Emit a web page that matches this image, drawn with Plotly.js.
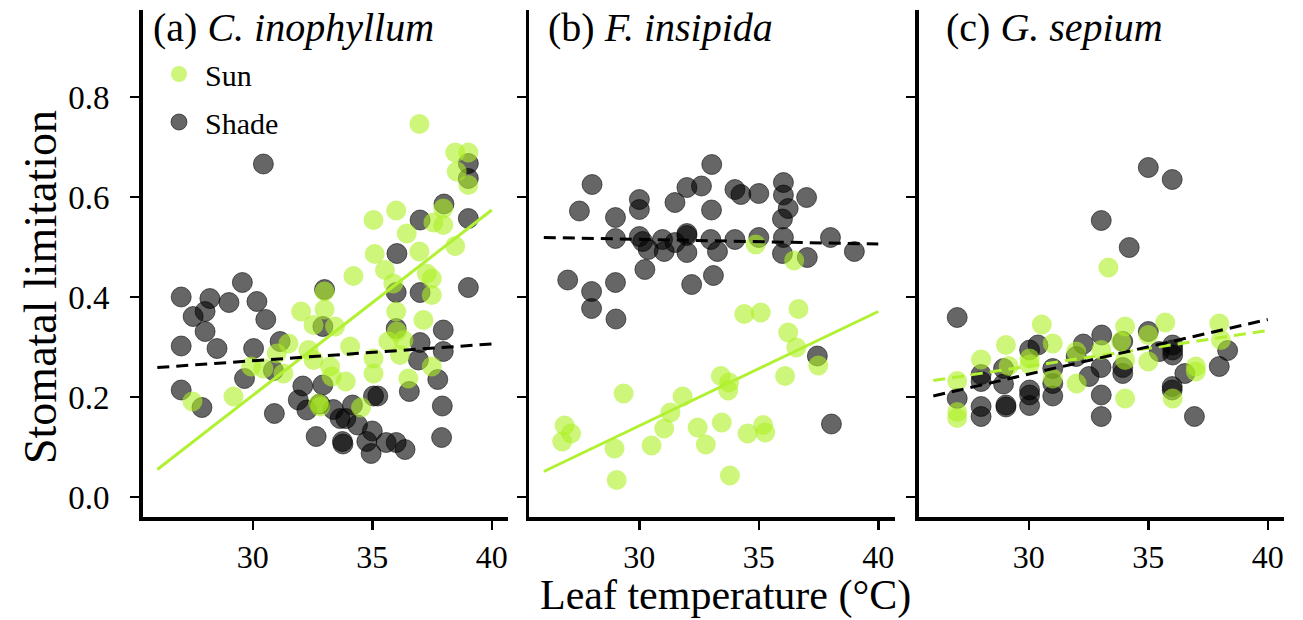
<!DOCTYPE html>
<html>
<head>
<meta charset="utf-8">
<script src="https://cdn.plot.ly/plotly-3.0.1.min.js"></script>
<style>html,body{margin:0;padding:0;background:#fff;}#chart{width:1303px;height:620px;}</style>
</head>
<body>
<div id="chart"></div>
<script>
// ---------- Data ----------
const panelTitles = ['(a) <i>C. inophyllum</i>', '(b) <i>F. insipida</i>', '(c) <i>G. sepium</i>'];
const xTickVals = [30, 35, 40];
const yTickVals = [0.0, 0.2, 0.4, 0.6, 0.8];
const yTickText = ['0.0', '0.2', '0.4', '0.6', '0.8'];

// Panel (a) C. inophyllum
const aShadeX = [30.44,39.02,39.02,38.0,37.0,39.02,36.03,29.56,27.0,28.2,29.0,30.17,28.0,27.5,30.54,28.0,33.0,36.0,37.0,39.02,32.93,36.0,37.97,27.0,28.5,30.03,31.14,37.0,37.97,36.93,30.86,29.65,37.74,27.0,27.87,30.9,32.09,32.93,31.9,32.26,32.8,33.37,34.17,33.65,33.89,34.38,35.05,35.23,36.55,37.93,32.65,33.75,33.77,35.0,34.77,34.95,35.58,36.0,36.37,37.9];
const aShadeY = [0.666,0.667,0.637,0.586,0.554,0.557,0.487,0.429,0.40,0.397,0.389,0.391,0.371,0.361,0.355,0.331,0.415,0.409,0.409,0.419,0.341,0.337,0.334,0.302,0.297,0.297,0.311,0.309,0.291,0.274,0.253,0.237,0.235,0.214,0.179,0.167,0.222,0.224,0.194,0.174,0.186,0.175,0.184,0.157,0.157,0.144,0.202,0.202,0.211,0.182,0.121,0.111,0.106,0.132,0.111,0.087,0.109,0.109,0.095,0.119];
const aSunX = [36.97,38.47,39.02,38.53,39.02,35.05,36.0,37.56,37.97,37.97,36.44,38.47,35.1,36.97,35.53,35.88,34.21,37.28,37.49,37.49,33.0,32.02,33.0,32.54,33.44,36.0,36.03,37.14,36.3,35.67,34.07,31.49,31.0,32.33,32.54,35.05,36.16,29.93,30.44,31.28,33.23,33.3,33.89,35.05,36.51,37.49,27.47,29.19,32.75,32.82,34.53];
const aSunY = [0.746,0.689,0.689,0.651,0.624,0.554,0.573,0.549,0.577,0.544,0.527,0.502,0.486,0.491,0.454,0.427,0.442,0.447,0.437,0.404,0.411,0.371,0.375,0.344,0.341,0.371,0.331,0.354,0.314,0.311,0.301,0.307,0.287,0.294,0.274,0.277,0.284,0.261,0.257,0.247,0.261,0.241,0.231,0.247,0.237,0.261,0.191,0.201,0.187,0.181,0.179];
const aSunFitX = [26.0, 40.0], aSunFitY = [0.055, 0.574];
const aShadeFitX = [26.0, 40.0], aShadeFitY = [0.259, 0.306];

// Panel (b) F. insipida
const bShadeX = [33.03,28.02,27.49,30.0,30.0,29.0,31.49,31.99,32.6,33.02,34.0,34.25,35.0,36.03,36.03,36.23,37.0,35.99,29.0,30.0,30.14,30.97,31.49,31.99,31.99,32.99,34.0,35.0,36.03,38.0,30.37,31.04,31.99,33.27,39.0,35.99,37.03,30.23,33.1,32.19,27.0,28.0,29.0,28.0,29.02,37.45,38.04];
const bShadeY = [0.665,0.625,0.572,0.595,0.575,0.559,0.589,0.619,0.622,0.574,0.615,0.605,0.607,0.629,0.604,0.577,0.599,0.556,0.517,0.521,0.511,0.515,0.509,0.527,0.523,0.515,0.515,0.519,0.519,0.519,0.495,0.491,0.489,0.491,0.491,0.487,0.479,0.455,0.443,0.425,0.434,0.411,0.429,0.377,0.356,0.282,0.146];
const bSunX = [34.87,36.48,34.39,35.08,36.66,36.23,36.57,37.49,36.1,33.41,33.76,33.72,29.34,31.81,31.3,31.04,32.44,33.45,34.53,35.18,35.27,26.87,27.14,26.77,28.96,30.51,32.78,29.05,33.79];
const bSunY = [0.505,0.473,0.366,0.369,0.376,0.329,0.299,0.263,0.242,0.242,0.229,0.213,0.207,0.201,0.169,0.137,0.139,0.149,0.127,0.144,0.129,0.143,0.127,0.111,0.097,0.103,0.105,0.034,0.043];
const bSunFitX = [26.0, 40.0], bSunFitY = [0.051, 0.371];
const bShadeFitX = [26.0, 40.0], bShadeFitY = [0.519, 0.506];

// Panel (c) G. sepium
const cShadeX = [35.0,36.0,33.03,34.2,27.0,30.38,30.03,33.05,32.28,33.93,35.0,36.02,36.02,36.02,35.46,31.98,31.0,33.02,33.93,33.93,32.52,28.0,28.0,28.94,28.94,31.0,30.03,30.03,31.0,27.0,28.0,28.0,29.04,29.04,30.03,33.03,33.03,36.0,36.0,36.53,36.93,37.97,38.32];
const cShadeY = [0.659,0.635,0.553,0.499,0.359,0.304,0.294,0.324,0.306,0.311,0.331,0.304,0.294,0.284,0.291,0.281,0.257,0.259,0.259,0.247,0.241,0.245,0.231,0.257,0.226,0.227,0.214,0.204,0.202,0.197,0.181,0.161,0.184,0.18,0.183,0.204,0.161,0.221,0.214,0.247,0.161,0.261,0.293];
const cSunX = [33.33,30.54,29.04,28.0,29.15,27.0,27.0,27.0,30.03,30.03,31.0,31.0,32.0,31.98,33.03,34.03,33.86,34.03,34.03,35.0,35.0,35.71,36.02,36.99,36.99,37.97,38.04];
const cSunY = [0.459,0.345,0.304,0.275,0.262,0.232,0.17,0.158,0.277,0.265,0.307,0.237,0.227,0.291,0.294,0.341,0.311,0.274,0.197,0.324,0.271,0.349,0.197,0.261,0.251,0.347,0.314];
const cSunFitX = [26.0, 40.0], cSunFitY = [0.233, 0.333];
const cShadeFitX = [26.0, 40.0], cShadeFitY = [0.202, 0.355];

// ---------- Styles ----------
const FONT = 'Liberation Serif';
const sunMarker = {size: 20, color: 'rgba(173,240,35,0.6)', line: {width: 0}};
const shadeMarker = {size: 20, color: 'rgba(0,0,0,0.6)', line: {width: 1, color: 'rgba(0,0,0,0.55)'}};
const sunLineColor = '#b2f032';

function pts(x, y, ax, name, marker, show, rank) {
  return {x: x, y: y, xaxis: 'x' + ax, yaxis: 'y' + ax, type: 'scatter', mode: 'markers',
    name: name, marker: marker, showlegend: show, legendgroup: name, legendrank: rank, hoverinfo: 'x+y'};
}
function fit(x, y, ax, color, dash) {
  return {x: x, y: y, xaxis: 'x' + ax, yaxis: 'y' + ax, type: 'scatter', mode: 'lines',
    line: {color: color, width: 3, dash: dash}, showlegend: false, hoverinfo: 'skip'};
}
const ax = ['', '2', '3'];
const traces = [
  pts(aShadeX, aShadeY, ax[0], 'Shade', shadeMarker, true, 2),
  pts(aSunX, aSunY, ax[0], 'Sun', sunMarker, true, 1),
  fit(aSunFitX, aSunFitY, ax[0], sunLineColor, 'solid'),
  fit(aShadeFitX, aShadeFitY, ax[0], '#000', '12px,7px'),
  pts(bShadeX, bShadeY, ax[1], 'Shade', shadeMarker, false, 2),
  pts(bSunX, bSunY, ax[1], 'Sun', sunMarker, false, 1),
  fit(bSunFitX, bSunFitY, ax[1], sunLineColor, 'solid'),
  fit(bShadeFitX, bShadeFitY, ax[1], '#000', '12px,7px'),
  pts(cShadeX, cShadeY, ax[2], 'Shade', shadeMarker, false, 2),
  pts(cSunX, cSunY, ax[2], 'Sun', sunMarker, false, 1),
  fit(cSunFitX, cSunFitY, ax[2], sunLineColor, '12px,7px'),
  fit(cShadeFitX, cShadeFitY, ax[2], '#000', '12px,7px')
];

const W = 1303, H = 620, ML = 142, MR = 19, MT = 10, MB = 103;
const PW = W - ML - MR, PH = H - MT - MB;
const px = v => (v - ML) / PW;
const py = v => 1 - (v - MT) / PH;

function xAxis(d0, d1, anchor) {
  return {domain: [px(d0), px(d1)], range: [25.38, 40.68], anchor: anchor,
    showline: true, linewidth: 3.5, linecolor: '#000', ticks: 'outside', ticklen: 9, tickwidth: 2.5, tickcolor: '#000',
    tickvals: xTickVals, ticktext: xTickVals.map(String), showgrid: false, zeroline: false,
    tickfont: {family: FONT, size: 32, color: '#000'}, ticklabelstandoff: 0, fixedrange: true};
}
function yAxis(anchor, labels) {
  return {domain: [0, 1], range: [-0.04, 0.974], anchor: anchor,
    showline: true, linewidth: 3.5, linecolor: '#000', ticks: 'outside', ticklen: 9, tickwidth: 2.5, tickcolor: '#000',
    tickvals: yTickVals, ticktext: yTickText, showticklabels: labels, showgrid: false, zeroline: false,
    tickfont: {family: FONT, size: 33, color: '#000'}, ticklabelstandoff: 14, fixedrange: true};
}

const titleFont = {family: FONT, size: 40, color: '#000'};
const layout = {
  width: W, height: H,
  margin: {l: ML, r: MR, t: MT, b: MB, pad: 0},
  paper_bgcolor: '#fff', plot_bgcolor: '#fff',
  font: {family: FONT, color: '#000'},
  xaxis: xAxis(142.5, 508, 'y'),
  yaxis: yAxis('x', true),
  xaxis2: xAxis(529, 894.5, 'y2'),
  yaxis2: yAxis('x2', false),
  xaxis3: xAxis(918.5, 1284, 'y3'),
  yaxis3: yAxis('x3', false),
  showlegend: true,
  legend: {x: px(153), y: py(48), xanchor: 'left', yanchor: 'top', bgcolor: 'rgba(0,0,0,0)',
    font: {family: FONT, size: 30, color: '#000'}, tracegroupgap: 6, itemwidth: 42},
  annotations: [
    {text: panelTitles[0], xref: 'paper', yref: 'paper', x: px(151), y: py(28), xanchor: 'left', yanchor: 'middle', showarrow: false, font: titleFont},
    {text: panelTitles[1], xref: 'paper', yref: 'paper', x: px(546), y: py(28), xanchor: 'left', yanchor: 'middle', showarrow: false, font: titleFont},
    {text: panelTitles[2], xref: 'paper', yref: 'paper', x: px(944), y: py(28), xanchor: 'left', yanchor: 'middle', showarrow: false, font: titleFont},
    {text: 'Leaf temperature (°C)', xref: 'paper', yref: 'paper', x: px(725), y: py(595), xanchor: 'center', yanchor: 'middle', showarrow: false, font: {family: FONT, size: 42, color: '#000'}},
    {text: 'Stomatal limitation', xref: 'paper', yref: 'paper', x: px(40), y: py(287), xanchor: 'center', yanchor: 'middle', textangle: -90, showarrow: false, font: {family: FONT, size: 46, color: '#000'}}
  ]
};

Plotly.newPlot('chart', traces, layout, {displayModeBar: false, staticPlot: true});
</script>
</body>
</html>
